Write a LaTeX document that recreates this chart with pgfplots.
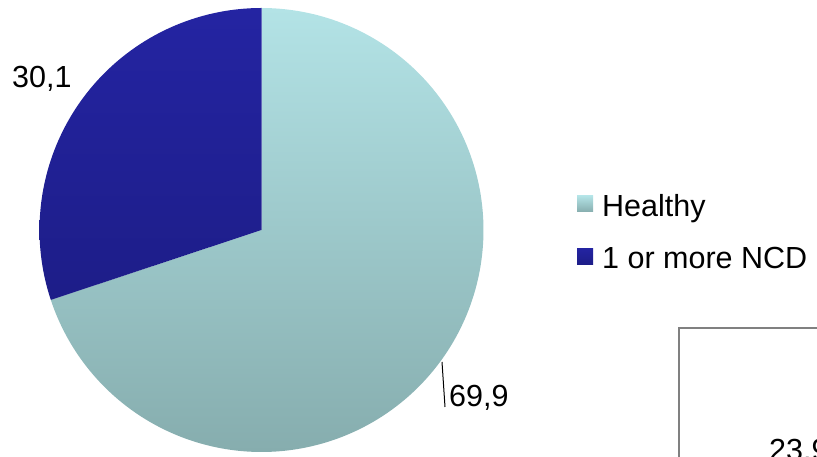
\documentclass[border=0pt]{standalone}
\usepackage{fontspec}
\setmainfont{Liberation Sans}
\usepackage{pgfplots}
\usepackage{pgfplotstable}
\pgfplotsset{compat=1.18}

\definecolor{hTop}{HTML}{B3E3E6}
\definecolor{hBot}{HTML}{86ADAE}
\definecolor{nTop}{HTML}{2424A2}
\definecolor{nBot}{HTML}{1D1D88}

% share of respondents (%)
\pgfplotstableread{
group value
Healthy 69.9
NCD 30.1
}\piedata
\pgfplotstablegetelem{0}{value}\of\piedata \let\vHealthy\pgfplotsretval
\pgfplotstablegetelem{1}{value}\of\piedata \let\vNCD\pgfplotsretval
\pgfmathsetmacro{\angHealthy}{90-3.6*\vHealthy}
\pgfmathsetmacro{\angNCD}{90+3.6*\vNCD}

\newcommand{\bigfont}{\fontsize{30.5}{36}\selectfont}

\begin{document}
\begin{tikzpicture}
\useasboundingbox (0,0) rectangle (817pt,457pt);
\begin{axis}[
    at={(0,0)}, anchor=south west,
    scale only axis, width=817pt, height=457pt,
    xmin=0, xmax=817, ymin=0, ymax=457,
    hide axis, clip=false,
    legend style={at={(axis cs:577,263)}, anchor=north west, draw=none, fill=none,
        font=\bigfont, row sep=29pt, column sep=9pt, inner sep=0pt,
        nodes={inner sep=0pt}},
    legend cell align=left,
    legend image code/.code={\path[#1] (0pt,-6pt) rectangle (16pt,10pt);},
]
\addplot[draw=none, top color=hTop, bottom color=hBot, variable=\t,
    domain=\angHealthy:90, samples=240]
    ({261.5+222*cos(t)},{227+222*sin(t)}) -- (axis cs:261.5,227) -- cycle;
\addlegendentry{Healthy}
\addplot[draw=none, top color=nTop, bottom color=nBot, variable=\t,
    domain=90:\angNCD, samples=120]
    ({261.5+222*cos(t)},{227+222*sin(t)}) -- (axis cs:261.5,227) -- cycle;
\addlegendentry{1 or more NCD}

\node[anchor=base west, font=\bigfont, inner sep=0pt] at (axis cs:12,369) {30,1};
\node[anchor=base west, font=\bigfont, inner sep=0pt] at (axis cs:449,50) {69,9};
\draw[black, line width=1pt] (axis cs:442,95) -- (axis cs:445,50);

\draw[gray, line width=2pt] (axis cs:679,-20) -- (axis cs:679,129) -- (axis cs:860,129);
\node[anchor=base west, font=\bigfont, inner sep=0pt] at (axis cs:769,-4) {23,9};
\end{axis}
\end{tikzpicture}
\end{document}
